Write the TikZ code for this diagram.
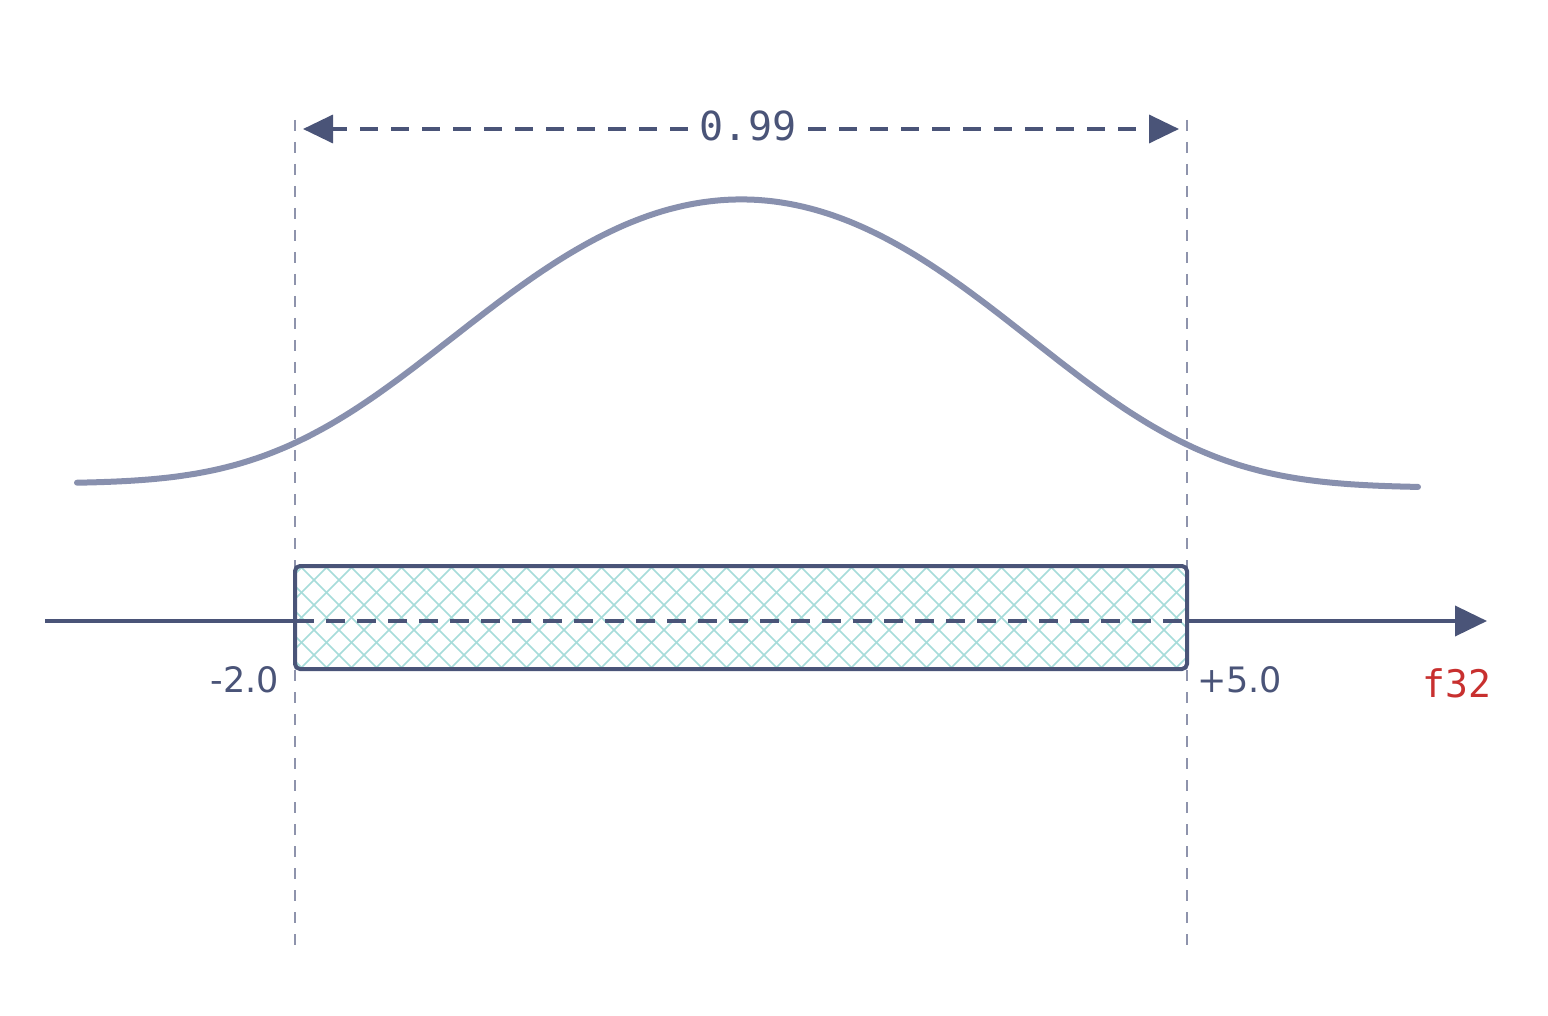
\documentclass[tikz,border=0pt]{standalone}
\usepackage{fontspec}
\setmainfont{DejaVu Sans}
\newfontfamily\monof{DejaVu Sans Mono}
\usetikzlibrary{arrows.meta}
\definecolor{navy}{HTML}{4A5478}
\definecolor{curvec}{HTML}{8890AE}
\definecolor{guide}{HTML}{8E93AC}
\definecolor{hatchc}{HTML}{A6DCDA}
\definecolor{redc}{HTML}{C8302F}
\begin{document}
\begin{tikzpicture}[x=1pt,y=-1pt,
  guideline/.style={draw=guide,line width=2.2pt,dash pattern=on 11pt off 11pt},
  dimarrow/.style={draw=navy,line width=3.6pt,dash pattern=on 18pt off 13pt,-{Triangle[length=30pt,width=28pt]}},
  axisline/.style={draw=navy,line width=3.8pt},
  innerdash/.style={draw=navy,line width=3.8pt,dash pattern=on 19pt off 12pt},
  bell/.style={draw=curvec,line width=6pt,line cap=round},
  rangebox/.style={draw=navy,line width=4pt,rounded corners=5pt},
  hatchline/.style={draw=hatchc,line width=1.6pt},
  numlabel/.style={text=navy,font=\fontsize{35}{40}\selectfont,inner sep=0pt},
  typelabel/.style={text=redc,font=\monof\fontsize{38}{42}\selectfont,inner sep=0pt},
  dimlabel/.style={text=navy,font=\monof\fontsize{40}{44}\selectfont,inner xsep=12pt,inner ysep=4pt}
]
\useasboundingbox (0,0) rectangle (1548,1016);
\fill[white] (0,0) rectangle (1548,1016);

% guide lines
\coordinate (gLt) at (295,120);
\coordinate (gLb) at (295,952);
\coordinate (gRt) at (1187,120);
\coordinate (gRb) at (1187,952);
\draw[guideline] (gLt) -- (gLb);
\draw[guideline] (gRt) -- (gRb);

% box with hatch
\coordinate (bxA) at (295,566);
\coordinate (bxB) at (1187,669);
\begin{scope}
  \clip (bxA) rectangle (bxB);
  \foreach \i in {-120,-95,...,1000} {
    \draw[hatchline] (295+\i,566) -- ++(103,103);
    \draw[hatchline] (295+\i,669) -- ++(103,-103);
  }
\end{scope}

% axis
\coordinate (axL) at (45,621);
\coordinate (axBL) at (295,621);
\coordinate (axBR) at (1187,621);
\coordinate (axR) at (1487,621);
\draw[axisline] (axL) -- (axBL);
\draw[innerdash] (axBL) -- (axBR);
\draw[axisline,-{Triangle[length=32pt,width=30pt]}] (axBR) -- (axR);

\draw[rangebox] (bxA) rectangle (bxB);

% bell curve
\draw[bell] plot[domain=77:1418,samples=180,smooth]
  (\x,{483.5+4*(\x-77)/1341-286*exp(-(0.067*((\x-742)/100)*((\x-742)/100)+0.0015*((\x-742)/100)*((\x-742)/100)*((\x-742)/100)*((\x-742)/100)))});

% dimension arrow
\node[dimlabel,anchor=base] (dim) at (748,141) {0.99};
\coordinate (dL) at (303,129);
\coordinate (dR) at (1179,129);
\draw[dimarrow] (dim.west |- dL) -- (dL);
\draw[dimarrow] (dim.east |- dR) -- (dR);

% labels
\node[numlabel,anchor=base east] (lo) at (279,692) {-2.0};
\node[numlabel,anchor=base west] (hi) at (1197,692) {+5.0};
\node[typelabel,anchor=base] (ty) at (1457,697) {f32};
\end{tikzpicture}
\end{document}
